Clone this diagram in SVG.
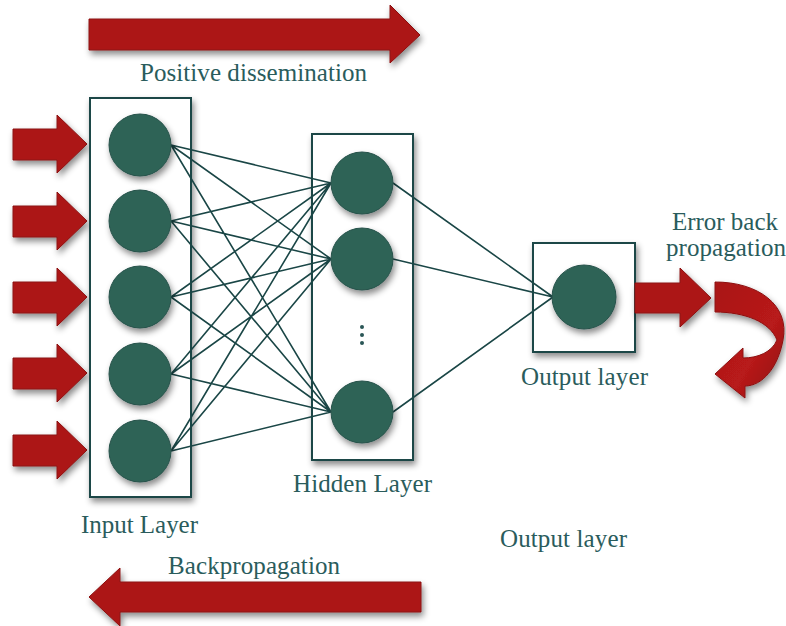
<svg xmlns="http://www.w3.org/2000/svg" width="786" height="626" viewBox="0 0 786 626">
  <style>
    .lbl { font-family: "Liberation Serif", "Times New Roman", serif; font-size: 25px; fill: #2a5c5c; }
    .box { fill: #ffffff; stroke: #1c4646; stroke-width: 2; filter: url(#shadow); }
    .node { fill: #2f6357; stroke: #26524a; stroke-width: 1; filter: url(#shadow); }
    .arrow { fill: #ac1717; stroke: #8c1111; stroke-width: 1; filter: url(#shadow); }
    .link { stroke: #1a4646; stroke-width: 1.6; fill: none; }
  </style>
  <defs>
    <filter id="shadow" x="-30%" y="-30%" width="160%" height="160%">
      <feDropShadow dx="2" dy="4" stdDeviation="3" flood-color="#000" flood-opacity="0.45"/>
    </filter>
    <linearGradient id="curl" x1="0" y1="0" x2="1" y2="1">
      <stop offset="0" stop-color="#a91616"/>
      <stop offset="0.6" stop-color="#b81a1a"/>
      <stop offset="1" stop-color="#8e1010"/>
    </linearGradient>
  </defs>

  <!-- direction arrows -->
  <g id="forward-arrow">
    <path class="arrow" d="M89,19 H390 V5 L420,35 L390,63 V50 H89 Z"/>
    <text class="lbl" x="140" y="81" textLength="227" lengthAdjust="spacing">Positive dissemination</text>
  </g>
  <g id="backward-arrow">
    <path class="arrow" d="M421,582 H120 V568 L89,597 L120,626 V612 H421 Z"/>
    <text class="lbl" x="168" y="574" textLength="172" lengthAdjust="spacing">Backpropagation</text>
  </g>

  <!-- input arrows -->
  <g id="inputs">
    <path class="arrow" d="M13,129 H57 V115 L87,144 L57,173 V160 H13 Z"/>
    <path class="arrow" d="M13,206 H57 V192 L87,221 L57,250 V237 H13 Z"/>
    <path class="arrow" d="M13,282 H57 V268 L87,297 L57,326 V313 H13 Z"/>
    <path class="arrow" d="M13,358 H57 V344 L87,373 L57,402 V389 H13 Z"/>
    <path class="arrow" d="M13,435 H57 V421 L87,450 L57,479 V466 H13 Z"/>
  </g>

  <!-- layer frames -->
  <g id="input-layer">
    <rect class="box" x="90" y="98" width="101" height="399"/>
    <text class="lbl" x="81" y="533" textLength="117" lengthAdjust="spacing">Input Layer</text>
  </g>
  <g id="hidden-layer">
    <rect class="box" x="312" y="134" width="101" height="326"/>
    <text class="lbl" x="293" y="492" textLength="139" lengthAdjust="spacing">Hidden Layer</text>
  </g>
  <g id="output-layer">
    <rect class="box" x="533" y="243" width="102" height="109"/>
    <text class="lbl" x="521" y="385" textLength="127" lengthAdjust="spacing">Output layer</text>
  </g>

  <!-- weights -->
  <g id="connectors">
    <path class="link" d="M171,145 L331,183 M171,145 L331,259 M171,145 L331,412
      M171,221 L331,183 M171,221 L331,259 M171,221 L331,412
      M171,297 L331,183 M171,297 L331,259 M171,297 L331,412
      M171,374 L331,183 M171,374 L331,259 M171,374 L331,412
      M171,451 L331,183 M171,451 L331,259 M171,451 L331,412
      M393,183 L553,297 M393,259 L553,297 M393,412 L553,297"/>
  </g>

  <!-- neurons -->
  <g id="input-nodes">
    <circle class="node" cx="140" cy="145" r="31"/>
    <circle class="node" cx="140" cy="221" r="31"/>
    <circle class="node" cx="140" cy="297" r="31"/>
    <circle class="node" cx="140" cy="374" r="31"/>
    <circle class="node" cx="140" cy="451" r="31"/>
  </g>
  <g id="hidden-nodes">
    <circle class="node" cx="362" cy="183" r="31"/>
    <circle class="node" cx="362" cy="259" r="31"/>
    <circle class="node" cx="362" cy="412" r="31"/>
    <circle cx="362" cy="327" r="2" fill="#2a5656"/>
    <circle cx="362" cy="335" r="2" fill="#2a5656"/>
    <circle cx="362" cy="343" r="2" fill="#2a5656"/>
  </g>
  <g id="output-node">
    <circle class="node" cx="584" cy="297" r="32"/>
  </g>

  <!-- error feedback -->
  <g id="error-arrow">
    <path class="arrow" d="M635,283 H680 V268 L711,298 L680,327 V313 H635 Z"/>
    <path d="M715,282 C758,282 790,305 783,340 C778,368 762,386 745,386 V398 L715,374 L743,348 V358 C758,358 772,352 777,340 C770,322 745,312 715,312 Z" fill="url(#curl)" stroke="#8c1111" stroke-width="1" filter="url(#shadow)"/>
    <text class="lbl" x="672" y="230" textLength="106" lengthAdjust="spacing">Error back</text>
    <text class="lbl" x="666" y="256" textLength="120" lengthAdjust="spacing">propagation</text>
  </g>

  <g id="caption">
    <text class="lbl" x="500" y="547" textLength="127" lengthAdjust="spacing">Output layer</text>
  </g>
</svg>
